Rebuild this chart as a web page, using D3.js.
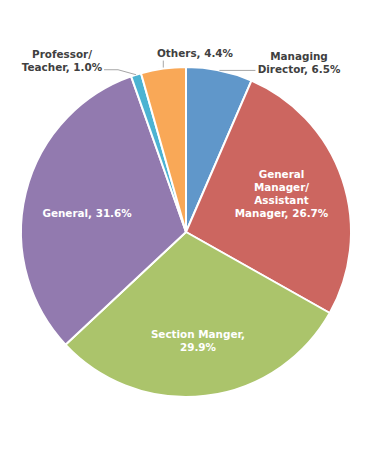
<!DOCTYPE html>
<html><head><meta charset="utf-8">
<script src="https://cdn.jsdelivr.net/npm/d3@7"></script>
<style>body{margin:0;background:#fff}svg{display:block}</style>
</head><body>
<script>
const categories = ["Managing Director", "General Manager/Assistant Manager", "Section Manger", "General", "Professor/Teacher", "Others"];
const values = [6.5, 26.7, 29.9, 31.6, 1.0, 4.4];
const labelLines = [
  ["Managing", "Director, 6.5%"],
  ["General", "Manager/", "Assistant", "Manager, 26.7%"],
  ["Section Manger,", "29.9%"],
  ["General, 31.6%"],
  ["Professor/", "Teacher, 1.0%"],
  ["Others, 4.4%"]
];
const colors = ["#6097ca", "#cc6660", "#abc46b", "#927aaf", "#4cb3d2", "#f9a857"];

const W = 390, H = 450, cx = 186, cy = 232, R = 165;
const svg = d3.select("body").append("svg").attr("width", W).attr("height", H);
const g = svg.append("g").attr("transform", `translate(${cx},${cy})`);
const pie = d3.pie().sort(null).value(d => d);
const arcs = pie(values);
const arc = d3.arc().innerRadius(0).outerRadius(R);
g.selectAll("path").data(arcs).enter().append("path")
  .attr("d", arc).attr("fill", (d, i) => colors[i])
  .attr("stroke", "#fff").attr("stroke-width", 2).attr("stroke-linejoin", "round");

const font = "'DejaVu Sans', Verdana, sans-serif";
const fs = 10.4, lh = 12.8;
// inside labels (best-fit nudges)
const inside = [
  {i: 1, r: 0.63, dx: -3, dy: -5},
  {i: 2, r: 0.66, dx: -1, dy: 1},
  {i: 3, r: 0.63, dx: 2, dy: 6}
];
inside.forEach(o => {
  const i = o.i;
  const a = (arcs[i].startAngle + arcs[i].endAngle) / 2;
  const r = R * o.r;
  const x = r * Math.sin(a) + o.dx, y = -r * Math.cos(a) + o.dy;
  const lines = labelLines[i];
  const t = g.append("text").attr("text-anchor", "middle").attr("font-family", font)
    .attr("font-size", fs).attr("font-weight", "bold").attr("fill", "#fff");
  lines.forEach((s, j) => t.append("tspan").attr("x", x)
    .attr("y", y + (j - (lines.length - 1) / 2) * lh + fs * 0.36).text(s));
});
// outside labels with leader lines
const outside = [
  {i: 0, lx: 113, ly: -169, pts: (p) => [[p[0], p[1]], [p[0] + 36, p[1]]]},
  {i: 4, lx: -124, ly: -171, pts: (p) => [[p[0], p[1]], [p[0] - 18, p[1] - 5], [p[0] - 32, p[1] - 5]]},
  {i: 5, lx: 9, ly: -179, pts: (p) => [[p[0], p[1] - 1], [p[0], p[1] - 8]]}
];
outside.forEach(o => {
  const a = (arcs[o.i].startAngle + arcs[o.i].endAngle) / 2;
  const p = [R * Math.sin(a), -R * Math.cos(a)];
  g.append("path").attr("d", d3.line()(o.pts(p))).attr("fill", "none")
    .attr("stroke", "#a6a6a6").attr("stroke-width", 1);
  const lines = labelLines[o.i];
  const t = g.append("text").attr("text-anchor", "middle").attr("font-family", font)
    .attr("font-size", fs).attr("font-weight", "bold").attr("fill", "#404040");
  lines.forEach((s, j) => t.append("tspan").attr("x", o.lx)
    .attr("y", o.ly + (j - (lines.length - 1) / 2) * lh + fs * 0.36).text(s));
});
</script>
</body></html>
